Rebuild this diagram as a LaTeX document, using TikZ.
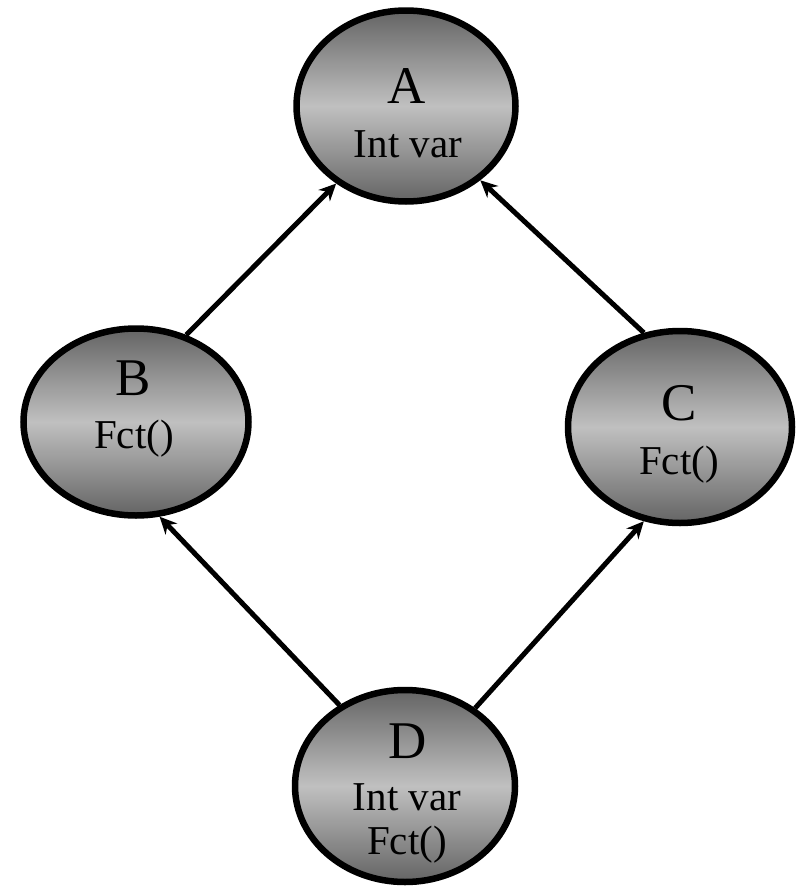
\documentclass[tikz,border=0pt]{standalone}
\usepackage{fontspec}
\setmainfont{Liberation Serif}
\usetikzlibrary{arrows.meta, shapes.geometric}
\definecolor{shadedark}{RGB}{100,100,100}
\definecolor{shadelight}{RGB}{192,192,192}

\begin{document}
\begin{tikzpicture}[x=1pt, y=-1pt,
  cls/.style={ellipse, draw, line width=6.5pt, inner sep=0pt,
    top color=shadedark, bottom color=shadedark, middle color=shadelight},
  big/.style={anchor=base, inner sep=0pt, font=\fontsize{53}{53}\selectfont},
  small/.style={anchor=base, inner sep=0pt, font=\fontsize{41}{41}\selectfont},
  link/.style={-{Stealth[length=17pt, width=16pt]}, line width=5pt}]
  \useasboundingbox (0,0) rectangle (805,889);

  % classes
  \node[cls, minimum width=219pt, minimum height=191pt] (A) at (406,106) {};
  \node[cls, minimum width=225pt, minimum height=187pt] (B) at (136,422) {};
  \node[cls, minimum width=224pt, minimum height=192pt] (C) at (680,427) {};
  \node[cls, minimum width=220pt, minimum height=192pt] (D) at (405,786) {};

  % names and members
  \node[big] (A-name) at (407,103) {A};
  \node[small] (A-var) at (408,157) {Int var};
  \node[big] (B-name) at (133,395) {B};
  \node[small] (B-fct) at (134,448) {Fct()};
  \node[big] (C-name) at (679,420) {C};
  \node[small] (C-fct) at (679,474) {Fct()};
  \node[big] (D-name) at (408,758) {D};
  \node[small] (D-var) at (407,810) {Int var};
  \node[small] (D-fct) at (407,854) {Fct()};

  % inheritance
  \draw[link] (B.60) -- (A.228);
  \draw[link] (C.111) -- (A.315);
  \draw[link] (D.129) -- (B.284);
  \draw[link] (D.48) -- (C.249);
\end{tikzpicture}
\end{document}
